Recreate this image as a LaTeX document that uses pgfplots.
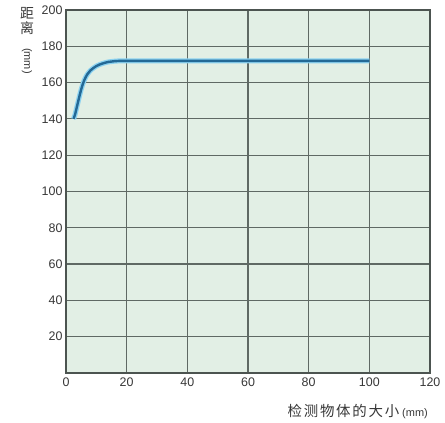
\documentclass[border=0pt]{standalone}
\usepackage{pgfplots}
\pgfplotsset{compat=1.18}
\usepackage{fontspec}
\setmainfont{Liberation Sans}
\newfontfamily\cjk{Noto Sans CJK SC}
\newfontfamily\cjkwide[LetterSpace=12]{Noto Sans CJK SC}
\definecolor{bg}{RGB}{226,239,229}
\definecolor{gridc}{RGB}{95,105,100}
\definecolor{curve}{RGB}{35,105,150}
\definecolor{glow}{RGB}{140,210,240}
\definecolor{txt}{RGB}{55,55,55}
\begin{document}
\begin{tikzpicture}[x=1bp,y=1bp]
\useasboundingbox (0,0) rectangle (445bp,423bp);
\begin{axis}[
  at={(66bp,50bp)}, anchor=south west,
  scale only axis, width=364bp, height=363bp,
  xmin=0, xmax=120, ymin=0, ymax=200,
  xtick={0,20,...,120}, ytick={20,40,...,200},
  grid=major,
  major grid style={gridc, line width=1.2bp},
  axis line style={gridc!80!black, line width=1.6bp},
  axis background/.style={fill=bg},
  tick style={draw=none},
  tick label style={font=\fontsize{12.5}{13}\selectfont, text=txt},
  /pgf/number format/assume math mode=true,
  xticklabel style={yshift=-1bp},
  clip=false,
]
\addplot[glow, line width=5bp] coordinates {
 (2.5,140) (3,142.5) (3.5,146) (4,149.5) (4.5,153) (5,156.2) (5.5,159) (6,161.2) (6.5,163) (7,164.5) (8,166.6) (9,168) (10,169.1) (11,169.9) (12,170.5) (13,171) (14,171.4) (16,171.8) (18,172) (20,172) (100,172)};
\addplot[curve, line width=2.4bp] coordinates {
 (2.5,140) (3,142.5) (3.5,146) (4,149.5) (4.5,153) (5,156.2) (5.5,159) (6,161.2) (6.5,163) (7,164.5) (8,166.6) (9,168) (10,169.1) (11,169.9) (12,170.5) (13,171) (14,171.4) (16,171.8) (18,172) (20,172) (100,172)};
\end{axis}
\node[anchor=north, inner sep=0pt, align=center, text=txt, font=\cjk\fontsize{14}{15}\selectfont] at (27bp,416bp) {距\\离};
\node[inner sep=0pt, rotate=-90, text=txt, font=\fontsize{11}{12}\selectfont, anchor=west] at (27bp,375bp) {(mm)};
\node[anchor=south east, inner sep=0pt, text=txt, font=\cjkwide\fontsize{14.5}{15}\selectfont] at (428bp,4bp) {检测物体的大小\hspace{3bp}{\rmfamily\fontsize{11}{12}\selectfont(mm)}};
\end{tikzpicture}
\end{document}
